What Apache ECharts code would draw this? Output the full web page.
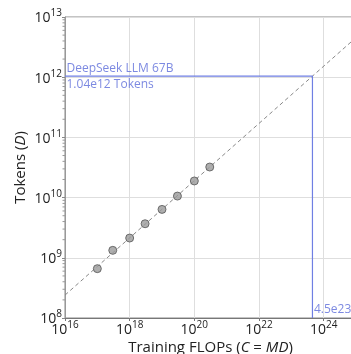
<!DOCTYPE html>
<html>
<head>
<meta charset="utf-8">
<script src="https://cdn.jsdelivr.net/npm/echarts@6/dist/echarts.min.js"></script>
<style>
  html, body { margin: 0; padding: 0; background: #fff; }
  #chart { width: 351px; height: 354px; }
</style>
</head>
<body>
<div id="chart"></div>
<script>
// Compute budgets (FLOPs) of the small scaling runs and their optimal token counts
const flops = [1e17, 3e17, 1e18, 3e18, 1e19, 3e19, 1e20, 3e20];
const tokens = [6.6e8, 1.33e9, 2.13e9, 3.68e9, 6.37e9, 1.06e10, 1.89e10, 3.22e10];

// End points of the fitted power law (straight in log-log space)
const fitLine = [[1e16, 2.4e8], [1e25, 4.55e12]];

// Highlighted model
const modelName = 'DeepSeek LLM 67B';
const modelFlops = 4.5e23;
const modelTokens = 1.04e12;

// Axis ranges
const xMin = 1e16, xMax = 1e25;
const yMin = 1e8, yMax = 1e13;

// Minor tick values on the y axis (2..9 within every decade)
const yMinorTicks = [];
for (let e = 8; e < 13; e++) {
  for (let m = 2; m <= 9; m++) yMinorTicks.push(m * Math.pow(10, e));
}

const FONT = '"Open Sans", "Noto Sans", sans-serif';
const BLUE = '#6f7fe3';
const BLUE_TEXT = '#5b6bd9';

function sci(v, digits) {
  return v.toExponential(digits).replace('+', '');
}
function powLabel(v) {
  const e = Math.round(Math.log10(v));
  if (e > 24) return '';
  return '{b|10}{s|' + e + '}';
}
const powRich = {
  b: { fontSize: 14, fontFamily: FONT, color: '#222', verticalAlign: 'bottom' },
  s: { fontSize: 10, fontFamily: FONT, color: '#222', verticalAlign: 'bottom', padding: [0, 0, 7, 0] }
};

const chart = echarts.init(document.getElementById('chart'), null, { renderer: 'canvas' });

chart.setOption({
  animation: false,
  backgroundColor: '#fff',
  grid: {
    left: 65, top: 17, bottom: 36, right: -5,
    outerBoundsMode: 'none',
    containLabel: false,
    show: true, borderColor: '#888', borderWidth: 1
  },
  xAxis: {
    type: 'log', logBase: 10, min: xMin, max: xMax, interval: 2,
    name: '{n|Training FLOPs (}{i|C}{n| = }{i|MD}{n|)}',
    nameLocation: 'middle', nameGap: 22, nameMoveOverlap: false,
    nameTextStyle: {
      rich: {
        n: { fontSize: 15, fontFamily: FONT, color: '#222' },
        i: { fontSize: 15, fontFamily: FONT, color: '#222', fontStyle: 'italic' }
      }
    },
    axisLine: { show: true, lineStyle: { color: '#777', width: 1 } },
    axisTick: { show: true, length: 3, lineStyle: { color: '#777' } },
    axisLabel: { margin: 2, formatter: powLabel, rich: powRich },
    splitLine: { show: true, lineStyle: { color: '#dedede', width: 1 } },
    minorTick: { show: false }
  },
  yAxis: {
    type: 'log', logBase: 10, min: yMin, max: yMax, interval: 1,
    name: '{n|Tokens (}{i|D}{n|)}',
    nameLocation: 'middle', nameGap: 37, nameRotate: 90, nameMoveOverlap: false,
    nameTextStyle: {
      rich: {
        n: { fontSize: 15, fontFamily: FONT, color: '#222' },
        i: { fontSize: 15, fontFamily: FONT, color: '#222', fontStyle: 'italic' }
      }
    },
    axisLine: { show: true, lineStyle: { color: '#999', width: 1 } },
    axisTick: { show: true, length: 3, lineStyle: { color: '#888' } },
    axisLabel: { margin: 3, formatter: powLabel, rich: powRich },
    splitLine: { show: true, lineStyle: { color: '#dedede', width: 1 } }
  },
  series: [
    {
      // minor ticks on the left axis
      type: 'custom',
      clip: false,
      silent: true,
      z: 5,
      data: yMinorTicks.map(v => [xMin, v]),
      renderItem: function (params, api) {
        const p = api.coord([api.value(0), api.value(1)]);
        return {
          type: 'line',
          shape: { x1: p[0] - 2.5, y1: p[1], x2: p[0], y2: p[1] },
          style: { stroke: '#999', lineWidth: 1 }
        };
      }
    },
    {
      // fitted scaling law
      type: 'line',
      data: fitLine,
      showSymbol: false,
      silent: true,
      lineStyle: { color: '#888', width: 1, type: [4, 3] },
      z: 2
    },
    {
      // guide lines to the highlighted model
      type: 'line',
      data: [[xMin, modelTokens], [modelFlops, modelTokens], [modelFlops, yMin]],
      showSymbol: false,
      silent: true,
      lineStyle: { color: BLUE, width: 1.2 },
      z: 3
    },
    {
      type: 'scatter',
      data: flops.map((f, i) => [f, tokens[i]]),
      symbol: 'circle',
      symbolSize: 8,
      itemStyle: { color: '#9a9a9a', borderColor: '#555', borderWidth: 1 },
      z: 4
    },
    {
      // annotation texts
      type: 'scatter',
      symbolSize: 1,
      itemStyle: { color: 'rgba(0,0,0,0)' },
      silent: true,
      z: 6,
      data: [
        { value: [xMin, modelTokens], label: { formatter: modelName, position: [2, -1], verticalAlign: 'bottom' } },
        { value: [xMin, modelTokens], label: { formatter: sci(modelTokens, 2) + ' Tokens', position: [2, 3], verticalAlign: 'top' } },
        { value: [modelFlops, yMin], label: { formatter: sci(modelFlops, 1), position: [2, -2], verticalAlign: 'bottom' } }
      ],
      label: {
        show: true, align: 'left',
        fontSize: 12, fontFamily: FONT, color: BLUE_TEXT
      }
    }
  ]
});
</script>
</body>
</html>
